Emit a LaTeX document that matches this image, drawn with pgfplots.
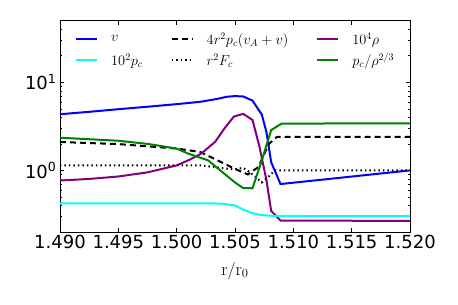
\documentclass[border=0pt]{standalone}
\usepackage{pgfplots}
\pgfplotsset{compat=1.18}
\usepackage{fontspec}
\newfontfamily\dejavu{DejaVu Sans}
\definecolor{mpurple}{rgb}{0.5,0,0.5}
\definecolor{mgreen}{rgb}{0,0.5,0}
\definecolor{mcyan}{rgb}{0,1,1}
\begin{document}
\begin{tikzpicture}
\path[use as bounding box] (-60pt,-73pt) rectangle (398pt,232pt);
\begin{axis}[
  at={(0,0)}, anchor=south west,
  scale only axis, width=350pt, height=211.3pt,
  ymode=log, xmin=1.490, xmax=1.520, ymin=0.2, ymax=50,
  xtick={1.490,1.495,1.500,1.505,1.510,1.515,1.520},
  xticklabels={1.490,1.495,1.500,1.505,1.510,1.515,1.520},
  ytick={1,10}, yticklabels={10\textsuperscript{0},10\textsuperscript{1}},
  minor ytick={0.2,0.3,0.4,0.5,0.6,0.7,0.8,0.9,2,3,4,5,6,7,8,9,20,30,40,50},
  tick label style={font=\dejavu\fontsize{18}{20}\selectfont},
  major tick length=4.5pt, minor tick length=2.5pt,
  tick style={black, line width=0.6pt},
  axis line style={line width=0.8pt},
  xlabel={$\mathrm{r/r_0}$},
  xlabel style={at={(axis description cs:0.5,0)}, anchor=base, yshift=-43pt, font=\fontsize{18}{20}\selectfont},
  every axis plot/.append style={line width=2pt},
  legend columns=3,
  legend image code/.code={\draw[#1] (0pt,0pt) -- (21pt,0pt);},
  legend style={draw=none, fill=none, inner sep=0pt,
    at={(axis description cs:0,1)}, anchor=north west, xshift=15pt, yshift=-12pt,
    font=\fontsize{14.5}{16}\selectfont,
    nodes={inner sep=0pt, anchor=west},
    row sep=7pt,
    /tikz/every odd column/.append style={column sep=13pt},
    /tikz/every even column/.append style={column sep=28pt}},
]
% v
\addplot[blue] coordinates {
(1.490,4.34) (1.4925,4.62) (1.495,4.95) (1.4975,5.28) (1.500,5.65) (1.502,6.0)
(1.5034,6.45) (1.5043,6.85) (1.505,6.97) (1.5057,6.9) (1.5065,6.2) (1.5073,4.3) (1.5077,2.7)
(1.5081,1.24) (1.5089,0.70) (1.520,1.0)};
\addlegendentry{$v$}
% dashed
\addplot[black, dash pattern=on 6pt off 4pt] coordinates {
(1.490,2.10) (1.495,1.99) (1.500,1.77) (1.502,1.62) (1.5034,1.32) (1.505,1.04)
(1.5061,0.90) (1.507,1.09) (1.5077,1.75) (1.5079,2.0) (1.5086,2.4) (1.520,2.4)};
\addlegendentry{$4r^2p_c(v_A+v)$}
% rho
\addplot[mpurple] coordinates {
(1.490,0.768) (1.4925,0.80) (1.495,0.853) (1.4975,0.95) (1.500,1.14) (1.5011,1.32)
(1.5021,1.55) (1.5033,2.11) (1.5041,3.0) (1.5049,4.08) (1.5057,4.38) (1.5065,3.74)
(1.5071,1.85) (1.5077,0.77) (1.5081,0.348) (1.5089,0.27) (1.520,0.267)};
\addlegendentry{$10^4\rho$}
% cyan
\addplot[mcyan] coordinates {
(1.490,0.423) (1.503,0.423) (1.504,0.418) (1.505,0.40) (1.5057,0.36) (1.5064,0.33)
(1.5072,0.312) (1.508,0.306) (1.509,0.304) (1.520,0.303)};
\addlegendentry{$10^2p_c$}
% dotted
\addplot[black, dash pattern=on 1.5pt off 3pt] coordinates {
(1.490,1.14) (1.502,1.14) (1.5033,1.09) (1.5045,1.04) (1.5050,1.03) (1.5057,1.07)
(1.5063,0.95) (1.5073,0.73) (1.5080,0.88) (1.5084,1.0) (1.520,1.0)};
\addlegendentry{$r^2F_c$}
% green
\addplot[mgreen] coordinates {
(1.490,2.35) (1.495,2.17) (1.4975,2.0) (1.500,1.77) (1.501,1.55) (1.5027,1.30)
(1.5039,0.96) (1.505,0.73) (1.5057,0.63) (1.5065,0.627) (1.5073,1.30) (1.5081,2.87)
(1.509,3.40) (1.520,3.42)};
\addlegendentry{$p_c/\rho^{2/3}$}
\end{axis}
\end{tikzpicture}
\end{document}
